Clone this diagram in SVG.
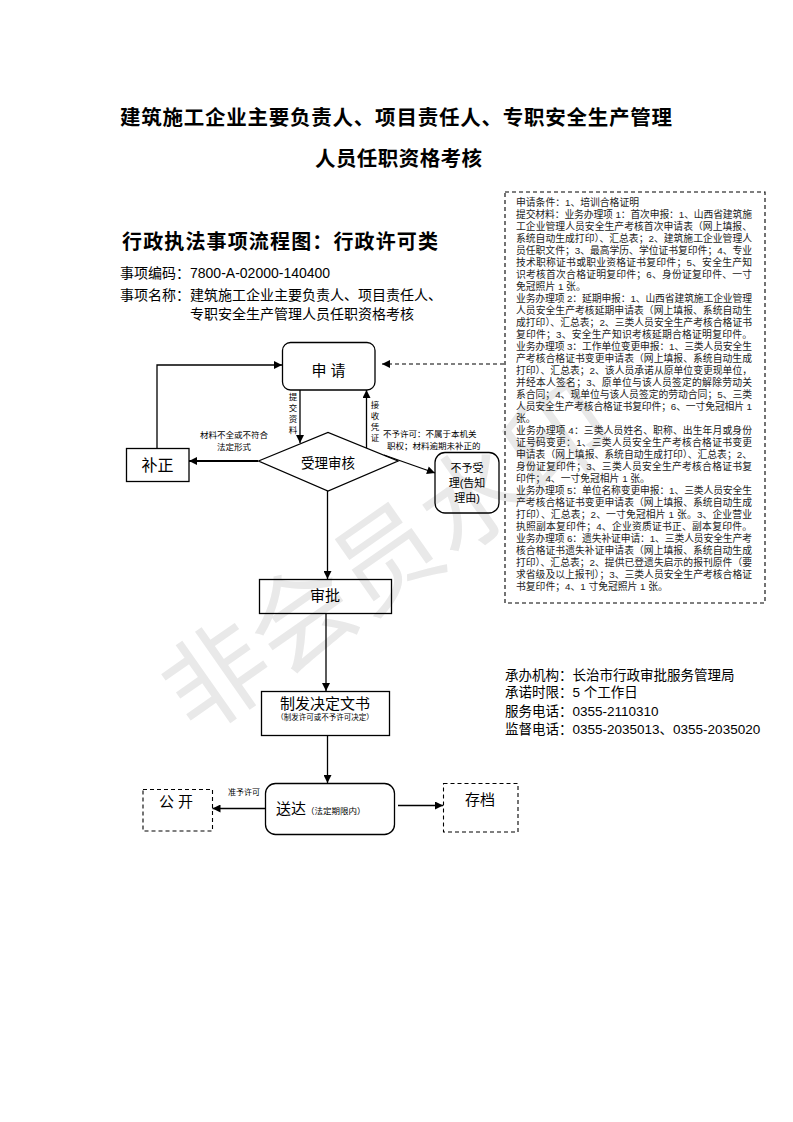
<svg xmlns="http://www.w3.org/2000/svg" width="793" height="1122" viewBox="0 0 793 1122">
<defs>
<style>
text{font-family:"Liberation Sans","Noto Sans CJK SC",sans-serif;fill:#000}
.t1{font-size:20.5px;font-weight:bold}
.h{font-size:14px}
.bx{font-size:9.8px;fill:#222}
.info{font-size:13.5px}
.n{fill:none;stroke:#000;stroke-width:1.3}
.d{fill:none;stroke:#000;stroke-width:1.1;stroke-dasharray:4 3}
.c{fill:none;stroke:#000;stroke-width:1.3}
.lbl{font-size:8.5px}
.nt{font-size:15px;text-anchor:middle}
</style>
<marker id="ah" viewBox="0 0 10 10" refX="10" refY="5" markerWidth="9" markerHeight="8" markerUnits="userSpaceOnUse" orient="auto"><path d="M0,0 L10,5 L0,10 z" fill="#000"/></marker>
</defs>
<rect width="793" height="1122" fill="#fff"/>
<g id="watermark">
<text x="166" y="716" transform="rotate(-35 215 680)" style="font-size:104px;fill:#e9e9e9">非会员水印</text>
</g>
<g id="titles">
<text class="t1" x="120" y="125" textLength="552" lengthAdjust="spacing">建筑施工企业主要负责人、项目责任人、专职安全生产管理</text>
<text class="t1" x="315" y="166" textLength="167" lengthAdjust="spacing">人员任职资格考核</text>
<text x="122" y="249" textLength="316" lengthAdjust="spacing" style="font-size:20px;font-weight:bold">行政执法事项流程图：行政许可类</text>
<text class="h" x="120" y="278">事项编码：7800-A-02000-140400</text>
<text class="h" x="120" y="300">事项名称：建筑施工企业主要负责人、项目责任人、</text>
<text class="h" x="190" y="319">专职安全生产管理人员任职资格考核</text>
</g>
<g id="conditions">
<rect class="d" x="505" y="192" width="260" height="411"/>
<text class="bx" x="516" y="206">申请条件：1、培训合格证明</text>
<text class="bx" x="516" y="218" textLength="236" lengthAdjust="spacing">提交材料：业务办理项 1：首次申报：1、山西省建筑施</text>
<text class="bx" x="516" y="230" textLength="236" lengthAdjust="spacing">工企业管理人员安全生产考核首次申请表（网上填报、</text>
<text class="bx" x="516" y="242" textLength="236" lengthAdjust="spacing">系统自动生成打印）、汇总表；2、建筑施工企业管理人</text>
<text class="bx" x="516" y="254" textLength="236" lengthAdjust="spacing">员任职文件；3、最高学历、学位证书复印件；4、专业</text>
<text class="bx" x="516" y="266" textLength="236" lengthAdjust="spacing">技术职称证书或职业资格证书复印件；5、安全生产知</text>
<text class="bx" x="516" y="278" textLength="236" lengthAdjust="spacing">识考核首次合格证明复印件；6、身份证复印件、一寸</text>
<text class="bx" x="516" y="290">免冠照片 1 张。</text>
<text class="bx" x="516" y="302" textLength="236" lengthAdjust="spacing">业务办理项 2：延期申报：1、山西省建筑施工企业管理</text>
<text class="bx" x="516" y="314" textLength="236" lengthAdjust="spacing">人员安全生产考核延期申请表（网上填报、系统自动生</text>
<text class="bx" x="516" y="326" textLength="236" lengthAdjust="spacing">成打印）、汇总表；2、三类人员安全生产考核合格证书</text>
<text class="bx" x="516" y="338" textLength="236" lengthAdjust="spacing">复印件；3、安全生产知识考核延期合格证明复印件。</text>
<text class="bx" x="516" y="350" textLength="236" lengthAdjust="spacing">业务办理项 3：工作单位变更申报：1、三类人员安全生</text>
<text class="bx" x="516" y="362" textLength="236" lengthAdjust="spacing">产考核合格证书变更申请表（网上填报、系统自动生成</text>
<text class="bx" x="516" y="374" textLength="236" lengthAdjust="spacing">打印）、汇总表；2、该人员承诺从原单位变更现单位，</text>
<text class="bx" x="516" y="386" textLength="236" lengthAdjust="spacing">并经本人签名；3、原单位与该人员签定的解除劳动关</text>
<text class="bx" x="516" y="398" textLength="236" lengthAdjust="spacing">系合同；4、现单位与该人员签定的劳动合同；5、三类</text>
<text class="bx" x="516" y="410" textLength="236" lengthAdjust="spacing">人员安全生产考核合格证书复印件；6、一寸免冠相片 1</text>
<text class="bx" x="516" y="422">张。</text>
<text class="bx" x="516" y="434" textLength="236" lengthAdjust="spacing">业务办理项 4：三类人员姓名、职称、出生年月或身份</text>
<text class="bx" x="516" y="446" textLength="236" lengthAdjust="spacing">证号码变更：1、三类人员安全生产考核合格证书变更</text>
<text class="bx" x="516" y="458" textLength="236" lengthAdjust="spacing">申请表（网上填报、系统自动生成打印）、汇总表；2、</text>
<text class="bx" x="516" y="470" textLength="236" lengthAdjust="spacing">身份证复印件；3、三类人员安全生产考核合格证书复</text>
<text class="bx" x="516" y="482">印件；4、一寸免冠相片 1 张。</text>
<text class="bx" x="516" y="494" textLength="236" lengthAdjust="spacing">业务办理项 5：单位名称变更申报：1、三类人员安全生</text>
<text class="bx" x="516" y="506" textLength="236" lengthAdjust="spacing">产考核合格证书变更申请表（网上填报、系统自动生成</text>
<text class="bx" x="516" y="518" textLength="236" lengthAdjust="spacing">打印）、汇总表；2、一寸免冠相片 1 张。3、企业营业</text>
<text class="bx" x="516" y="530" textLength="236" lengthAdjust="spacing">执照副本复印件；4、企业资质证书正、副本复印件。</text>
<text class="bx" x="516" y="542" textLength="236" lengthAdjust="spacing">业务办理项 6：遗失补证申请：1、三类人员安全生产考</text>
<text class="bx" x="516" y="554" textLength="236" lengthAdjust="spacing">核合格证书遗失补证申请表（网上填报、系统自动生成</text>
<text class="bx" x="516" y="566" textLength="236" lengthAdjust="spacing">打印）、汇总表；2、提供已登遗失启示的报刊原件（要</text>
<text class="bx" x="516" y="578" textLength="236" lengthAdjust="spacing">求省级及以上报刊）；3、三类人员安全生产考核合格证</text>
<text class="bx" x="516" y="590">书复印件；4、1 寸免冠照片 1 张。</text>
</g>
<g id="info">
<text class="info" x="505" y="680">承办机构：长治市行政审批服务管理局</text>
<text class="info" x="505" y="697">承诺时限：5 个工作日</text>
<text class="info" x="505" y="716">服务电话：0355-2110310</text>
<text class="info" x="505" y="734">监督电话：0355-2035013、0355-2035020</text>
</g>
<g id="connectors">
<path class="c" d="M157,448 V365 H282" marker-end="url(#ah)"/>
<path class="c" d="M300,390 V443" marker-end="url(#ah)"/>
<path class="c" d="M366.5,448 V390" marker-end="url(#ah)"/>
<path class="c" d="M258,461 H189" style="stroke-width:2.2" marker-end="url(#ah)"/>
<path class="c" d="M384,455 L435,473" marker-end="url(#ah)"/>
<path class="c" d="M327.5,491 V579" marker-end="url(#ah)"/>
<path class="c" d="M326,613 V691" marker-end="url(#ah)"/>
<path class="c" d="M327.5,735 V783" marker-end="url(#ah)"/>
<path class="c" d="M265,808.5 H212.5" marker-end="url(#ah)"/>
<path class="c" d="M398,805.5 H443" marker-end="url(#ah)"/>
<path d="M504,364 H382" fill="none" stroke="#000" stroke-width="1.1" stroke-dasharray="4 3" marker-end="url(#ah)"/>
<text class="lbl" x="293" y="400" text-anchor="middle">提</text>
<text class="lbl" x="293" y="411" text-anchor="middle">交</text>
<text class="lbl" x="293" y="422" text-anchor="middle">资</text>
<text class="lbl" x="293" y="433" text-anchor="middle">料</text>
<text class="lbl" x="375" y="408" text-anchor="middle">接</text>
<text class="lbl" x="375" y="419" text-anchor="middle">收</text>
<text class="lbl" x="375" y="430" text-anchor="middle">凭</text>
<text class="lbl" x="375" y="441" text-anchor="middle">证</text>
<text class="lbl" x="234" y="438" text-anchor="middle">材料不全或不符合</text>
<text class="lbl" x="234" y="450" text-anchor="middle">法定形式</text>
<text class="lbl" x="383" y="437">不予许可：不属于本机关</text>
<text class="lbl" x="387" y="449">职权；材料逾期未补正的</text>
<text class="lbl" x="244" y="795" text-anchor="middle" style="font-size:8px">准予许可</text>
</g>
<g id="n-apply">
<rect class="n" x="282.5" y="342.5" width="92.5" height="47.5" rx="8"/>
<text class="nt" x="328.5" y="376">申 请</text>
</g>
<g id="n-fix">
<rect class="n" x="126.5" y="448.5" width="62.5" height="33"/>
<text x="157.5" y="471" style="font-size:16px;text-anchor:middle">补正</text>
</g>
<g id="n-review">
<path class="n" d="M258.5,461 L328,432.5 L398,461 L328,491 Z"/>
<text x="328" y="468" style="font-size:13.5px;text-anchor:middle">受理审核</text>
</g>
<g id="n-reject">
<rect class="n" x="435" y="452.5" width="64" height="60.5" rx="10"/>
<text x="467" y="472" style="font-size:11px;text-anchor:middle">不予受</text>
<text x="467" y="487" style="font-size:11px;text-anchor:middle">理(告知</text>
<text x="467" y="502" style="font-size:11px;text-anchor:middle">理由)</text>
</g>
<g id="n-approve">
<rect class="n" x="259.5" y="579.5" width="132" height="34"/>
<text class="nt" x="325" y="601">审批</text>
</g>
<g id="n-decision">
<rect class="n" x="261.5" y="691.5" width="128" height="44"/>
<text class="nt" x="325" y="708.5">制发决定文书</text>
<text x="325" y="720" style="font-size:7.5px;text-anchor:middle">（制发许可或不予许可决定）</text>
</g>
<g id="n-deliver">
<rect class="n" x="265.5" y="783.5" width="129" height="51" rx="10"/>
<text x="276" y="814" style="font-size:15px">送达<tspan style="font-size:8.5px">（法定期限内）</tspan></text>
</g>
<g id="n-public">
<rect class="d" x="143" y="789.5" width="69.5" height="41.5"/>
<text class="nt" x="176" y="807">公 开</text>
</g>
<g id="n-archive">
<rect class="d" x="443.5" y="783.5" width="74.5" height="48.5"/>
<text class="nt" x="480" y="805">存档</text>
</g>
</svg>
